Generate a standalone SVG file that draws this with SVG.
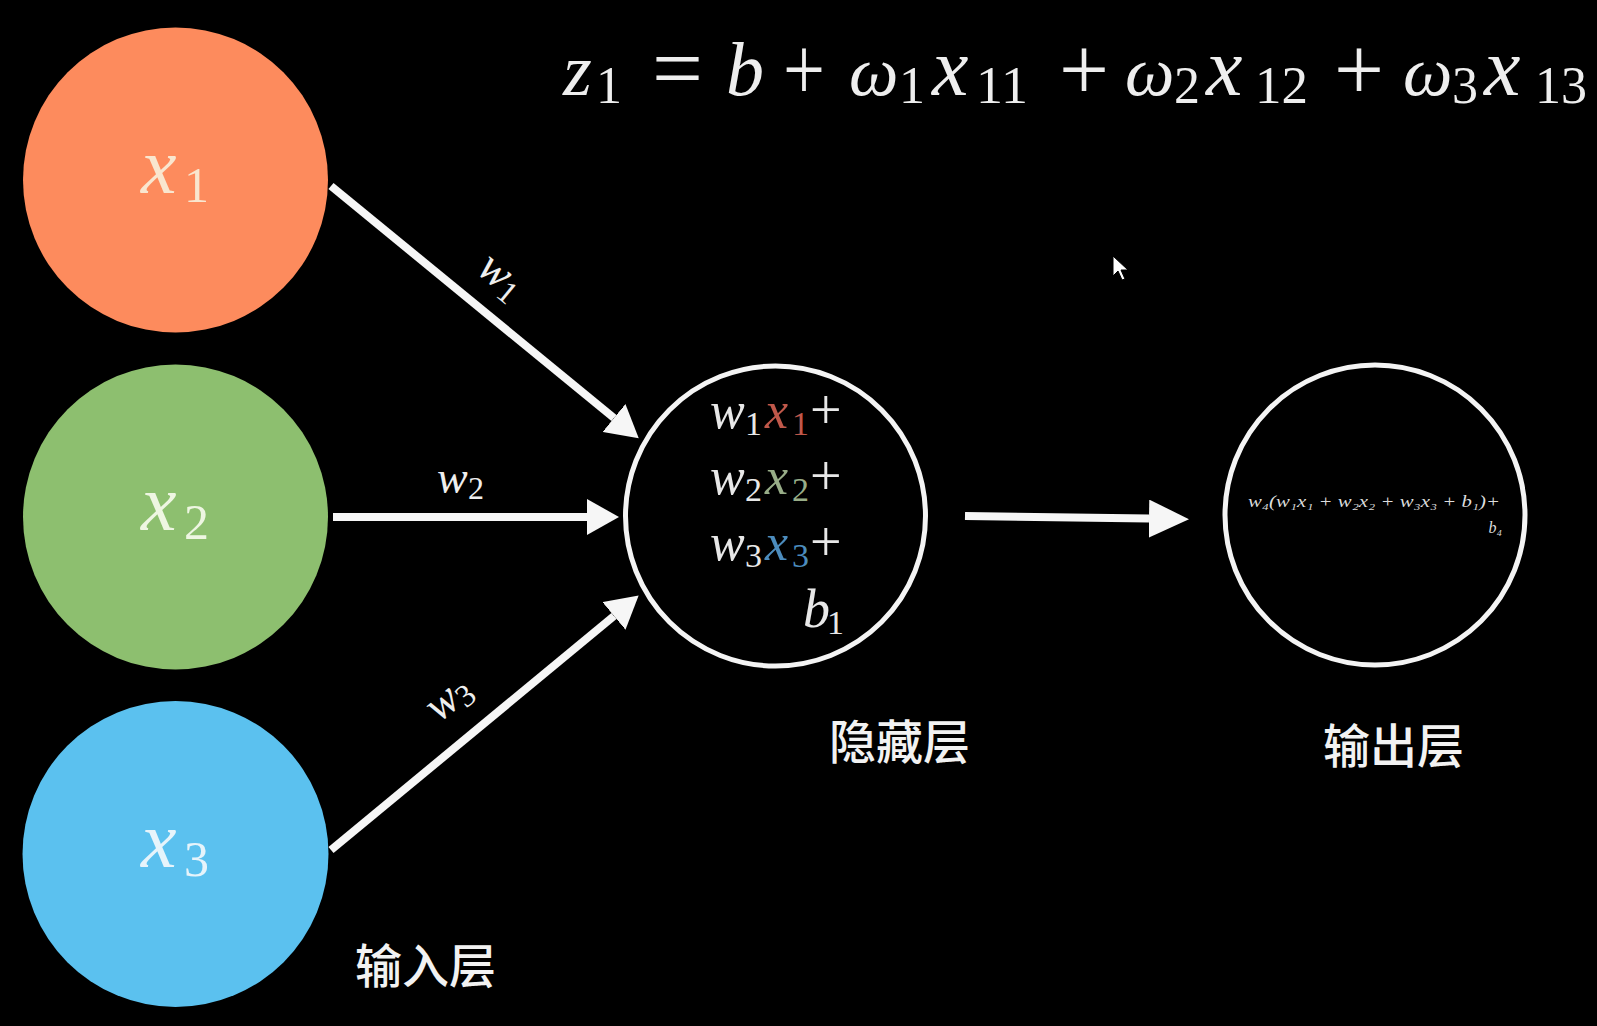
<svg xmlns="http://www.w3.org/2000/svg" width="1597" height="1026" viewBox="0 0 1597 1026">
<style>
.m{font-family:"Liberation Serif","DejaVu Serif",serif;font-style:italic;}
.u{font-family:"Liberation Serif","DejaVu Serif",serif;font-style:normal;}
.cn{font-family:"Noto Sans CJK SC","Noto Sans",sans-serif;font-weight:500;font-size:47px;fill:#f2f2f2;}
.ring{fill:#000;stroke:#f4f4f4;stroke-width:5;}
.conn{stroke:#f6f6f6;stroke-width:8;fill:none;}
</style>
<defs>
<marker id="ah" markerUnits="userSpaceOnUse" viewBox="0 0 32 36" refX="0" refY="18" markerWidth="32" markerHeight="36" orient="auto">
<path d="M0,0 L32,18 L0,36 Z" fill="#f6f6f6"/>
</marker>
<marker id="ahBig" markerUnits="userSpaceOnUse" viewBox="0 0 40 38" refX="0" refY="19" markerWidth="40" markerHeight="38" orient="auto">
<path d="M0,0 L40,19 L0,38 Z" fill="#f6f6f6"/>
</marker>
</defs>
<rect width="1597" height="1026" fill="#000"/>

<g id="formula" fill="#eeeeee">
<text class="m" font-size="74" x="563" y="95">z</text>
<text class="u" font-size="52" x="596" y="103">1</text>
<text class="u" font-size="92" x="652" y="99" textLength="51" lengthAdjust="spacingAndGlyphs">=</text>
<text class="m" font-size="76" x="726" y="95">b</text>
<text class="u" font-size="90" x="783" y="100" textLength="42" lengthAdjust="spacingAndGlyphs">+</text>
<text class="m" font-size="70" x="849" y="95">ω</text>
<text class="u" font-size="52" x="899" y="103">1</text>
<text class="m" font-size="82" x="932" y="95">x</text>
<text class="u" font-size="52" x="976" y="103" textLength="52" lengthAdjust="spacingAndGlyphs">11</text>
<text class="u" font-size="90" x="1059" y="100" textLength="50" lengthAdjust="spacingAndGlyphs">+</text>
<text class="m" font-size="70" x="1125" y="95">ω</text>
<text class="u" font-size="52" x="1174" y="103">2</text>
<text class="m" font-size="82" x="1206" y="95">x</text>
<text class="u" font-size="52" x="1255" y="103" textLength="53" lengthAdjust="spacingAndGlyphs">12</text>
<text class="u" font-size="90" x="1334" y="100" textLength="50" lengthAdjust="spacingAndGlyphs">+</text>
<text class="m" font-size="70" x="1403" y="95">ω</text>
<text class="u" font-size="52" x="1452" y="103">3</text>
<text class="m" font-size="82" x="1484" y="95">x</text>
<text class="u" font-size="52" x="1535" y="103" textLength="52" lengthAdjust="spacingAndGlyphs">13</text>
</g>

<g id="connectors">
<line class="conn" x1="331" y1="186" x2="614" y2="418" marker-end="url(#ah)"/>
<line class="conn" x1="333" y1="517" x2="587" y2="517" marker-end="url(#ah)"/>
<line class="conn" x1="331" y1="850" x2="614" y2="616" marker-end="url(#ah)"/>
<line class="conn" stroke-width="10" x1="965" y1="516" x2="1149" y2="518.6" marker-end="url(#ahBig)"/>
<g id="edge-labels" fill="#eeeeee">
<text transform="translate(494,277) rotate(39.3)" y="8"><tspan class="m" font-size="46" x="-18">w</tspan><tspan class="u" font-size="32" x="12" y="14">1</tspan></text>
<text x="0" y="0"><tspan class="m" font-size="46" x="437" y="493">w</tspan><tspan class="u" font-size="32" x="468" y="499">2</tspan></text>
<text transform="translate(451,703) rotate(-39.5)" y="8"><tspan class="m" font-size="46" x="-22">w</tspan><tspan class="u" font-size="32" x="8" y="14">3</tspan></text>
</g>
</g>

<g id="node-x1">
<circle cx="175.5" cy="180" r="152.5" fill="#fd8b5d"/>
<text fill="#f9e6cf"><tspan class="m" font-size="80" x="141" y="193">x</tspan><tspan class="u" font-size="50" x="184" y="202">1</tspan></text>
</g>
<g id="node-x2">
<circle cx="175.5" cy="517" r="152.5" fill="#8dbf6f"/>
<text fill="#eef6e2"><tspan class="m" font-size="80" x="141" y="530">x</tspan><tspan class="u" font-size="50" x="184" y="539">2</tspan></text>
</g>
<g id="node-x3">
<circle cx="175.5" cy="854" r="153" fill="#5bc1ef"/>
<text fill="#e6f4fb"><tspan class="m" font-size="80" x="141" y="867">x</tspan><tspan class="u" font-size="50" x="184" y="876">3</tspan></text>
</g>

<g id="node-hidden">
<circle class="ring" cx="775.5" cy="516" r="150"/>
<text fill="#e8e8e8"><tspan class="m" font-size="52" x="710" y="428">w</tspan><tspan class="u" font-size="34" x="745" y="435">1</tspan><tspan class="m" font-size="52" x="765" y="428" fill="#c0584a">x</tspan><tspan class="u" font-size="34" x="792" y="435" fill="#c0584a">1</tspan><tspan class="u" font-size="56" x="810" y="429">+</tspan></text>
<text fill="#e8e8e8"><tspan class="m" font-size="52" x="710" y="494">w</tspan><tspan class="u" font-size="34" x="745" y="501">2</tspan><tspan class="m" font-size="52" x="765" y="494" fill="#98ad88">x</tspan><tspan class="u" font-size="34" x="792" y="501" fill="#98ad88">2</tspan><tspan class="u" font-size="56" x="810" y="495">+</tspan></text>
<text fill="#e8e8e8"><tspan class="m" font-size="52" x="710" y="560">w</tspan><tspan class="u" font-size="34" x="745" y="567">3</tspan><tspan class="m" font-size="52" x="765" y="560" fill="#4c8cbd">x</tspan><tspan class="u" font-size="34" x="792" y="567" fill="#4c8cbd">3</tspan><tspan class="u" font-size="56" x="810" y="561">+</tspan></text>
<text fill="#e8e8e8"><tspan class="m" font-size="54" x="803" y="627">b</tspan><tspan class="u" font-size="34" x="827" y="634">1</tspan></text>
</g>

<g id="node-output">
<circle class="ring" cx="1375" cy="515" r="150"/>
<text class="m" font-size="16" fill="#dddddd" x="1248" y="507" textLength="252" lengthAdjust="spacingAndGlyphs">w₄(w₁x₁ + w₂x₂ + w₃x₃ + b₁)+</text>
<text class="m" font-size="16" fill="#dddddd" x="1502" y="533" text-anchor="end">b₄</text>
</g>

<g id="labels">
<text class="cn" x="355" y="983">输入层</text>
<text class="cn" x="829" y="759">隐藏层</text>
<text class="cn" x="1323" y="763">输出层</text>
</g>

<g id="cursor">
<path d="M1113,256 L1113,276 L1118,271 L1122,280 L1125,279 L1121,270 L1128,270 Z" fill="#ffffff" stroke="#000" stroke-width="1"/>
</g>
</svg>
